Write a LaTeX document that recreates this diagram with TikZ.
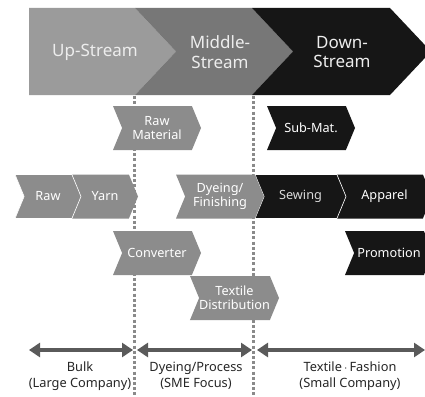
\documentclass[tikz,border=0pt]{standalone}
\usepackage{fontspec}
\setmainfont{Noto Sans}
\usetikzlibrary{shapes.symbols,arrows.meta}
\definecolor{upgray}{HTML}{9B9B9B}
\definecolor{midgray}{HTML}{777777}
\definecolor{downblack}{HTML}{161616}
\definecolor{boxgray}{HTML}{8C8C8C}
\definecolor{dotgray}{HTML}{8A8A8A}
\definecolor{arrowgray}{HTML}{5A5A5A}
\tikzset{
  streamtext/.style={text=white!93!black, align=center,
    font=\fontsize{17}{19.5}\selectfont},
  chev/.style={shape=signal, signal from=west, signal to=east,
    signal pointer angle=135, minimum height=44pt, inner sep=0pt,
    align=center, font=\fontsize{12.7}{14}\selectfont\bfseries},
  graychev/.style={chev, fill=boxgray, text=white},
  blackchev/.style={chev, fill=downblack, text=white},
  sep/.style={draw=white, line width=0.6pt},
  span/.style={arrowgray, line width=4.5pt, {Triangle[length=11pt,width=14pt]}-{Triangle[length=11pt,width=14pt]}},
  divider/.style={dotgray, line width=3pt, dash pattern=on 3pt off 2.2pt},
  caption/.style={align=center, text=black!85, font=\fontsize{12.8}{16.5}\selectfont}
}
\begin{document}
\begin{tikzpicture}[x=1pt,y=-1pt]
\useasboundingbox (0,0) rectangle (425,396);
\clip (0,0) rectangle (425,396);
\fill[white] (0,0) rectangle (425,396);

%% the three streams
\fill[upgray] (29,8) -- (135,8) -- (176,51.5) -- (135,95) -- (29,95) -- cycle;
\fill[midgray] (135,8) -- (252,8) -- (293,51.5) -- (252,95) -- (135,95) -- (176,51.5) -- cycle;
\fill[downblack] (252,8) -- (390,8) -- (431,51.5) -- (390,95) -- (252,95) -- (293,51.5) -- cycle;
\node[streamtext] (up) at (95,52) {Up-Stream};
\node[streamtext] (middle) at (220,52) {Middle-\\Stream};
\node[streamtext] (down) at (342,52) {Down-\\Stream};

%% dotted borders
\draw[divider] (134,96) -- (134,396);
\draw[divider] (253,96) -- (253,396);

%% chain boxes
\node[graychev, minimum width=88pt] (rawmat) at (157,128) {Raw\\Material};
\node[blackchev, minimum width=88pt] (submat) at (311,128) {Sub-Mat.};

\node[graychev, minimum width=66pt] (yarn) at (105,196.5) {Yarn};
\node[graychev, sep, minimum width=66pt] (raw) at (48,196.5) {Raw};
\node[blackchev, minimum width=95pt] (apparel) at (384.5,196.5) {Apparel};
\node[blackchev, sep, minimum width=91pt, font=\fontsize{12.7}{14}\selectfont, text=white!85!black] (sewing) at (300.5,196.5) {Sewing};
\node[graychev, minimum width=88pt] (dyeing) at (220,196.5) {Dyeing/\\Finishing};

\node[graychev, minimum width=88pt] (converter) at (157,253) {Converter};
\node[blackchev, minimum width=88pt] (promotion) at (389,253) {Promotion};
\node[graychev, minimum width=89pt, font=\fontsize{12.7}{14}\selectfont] (textdist) at (234.5,298) {Textile\\Distribution};

%% company size spans
\coordinate (bulkL) at (29,350);
\coordinate (bulkR) at (133,350);
\coordinate (smeL) at (137,350);
\coordinate (smeR) at (252,350);
\coordinate (smallL) at (257,350);
\coordinate (smallR) at (425,350);
\draw[span] (bulkL) -- (bulkR);
\draw[span] (smeL) -- (smeR);
\draw[span] (smallL) -- (smallR);

\node[caption] (bulk) at (80,376) {Bulk\\(Large Company)};
\node[caption] (sme) at (196,376) {Dyeing/Process\\(SME Focus)};
\node[caption] (small) at (350,376) {Textile\,$\cdot$\,Fashion\\(Small Company)};
\end{tikzpicture}
\end{document}
